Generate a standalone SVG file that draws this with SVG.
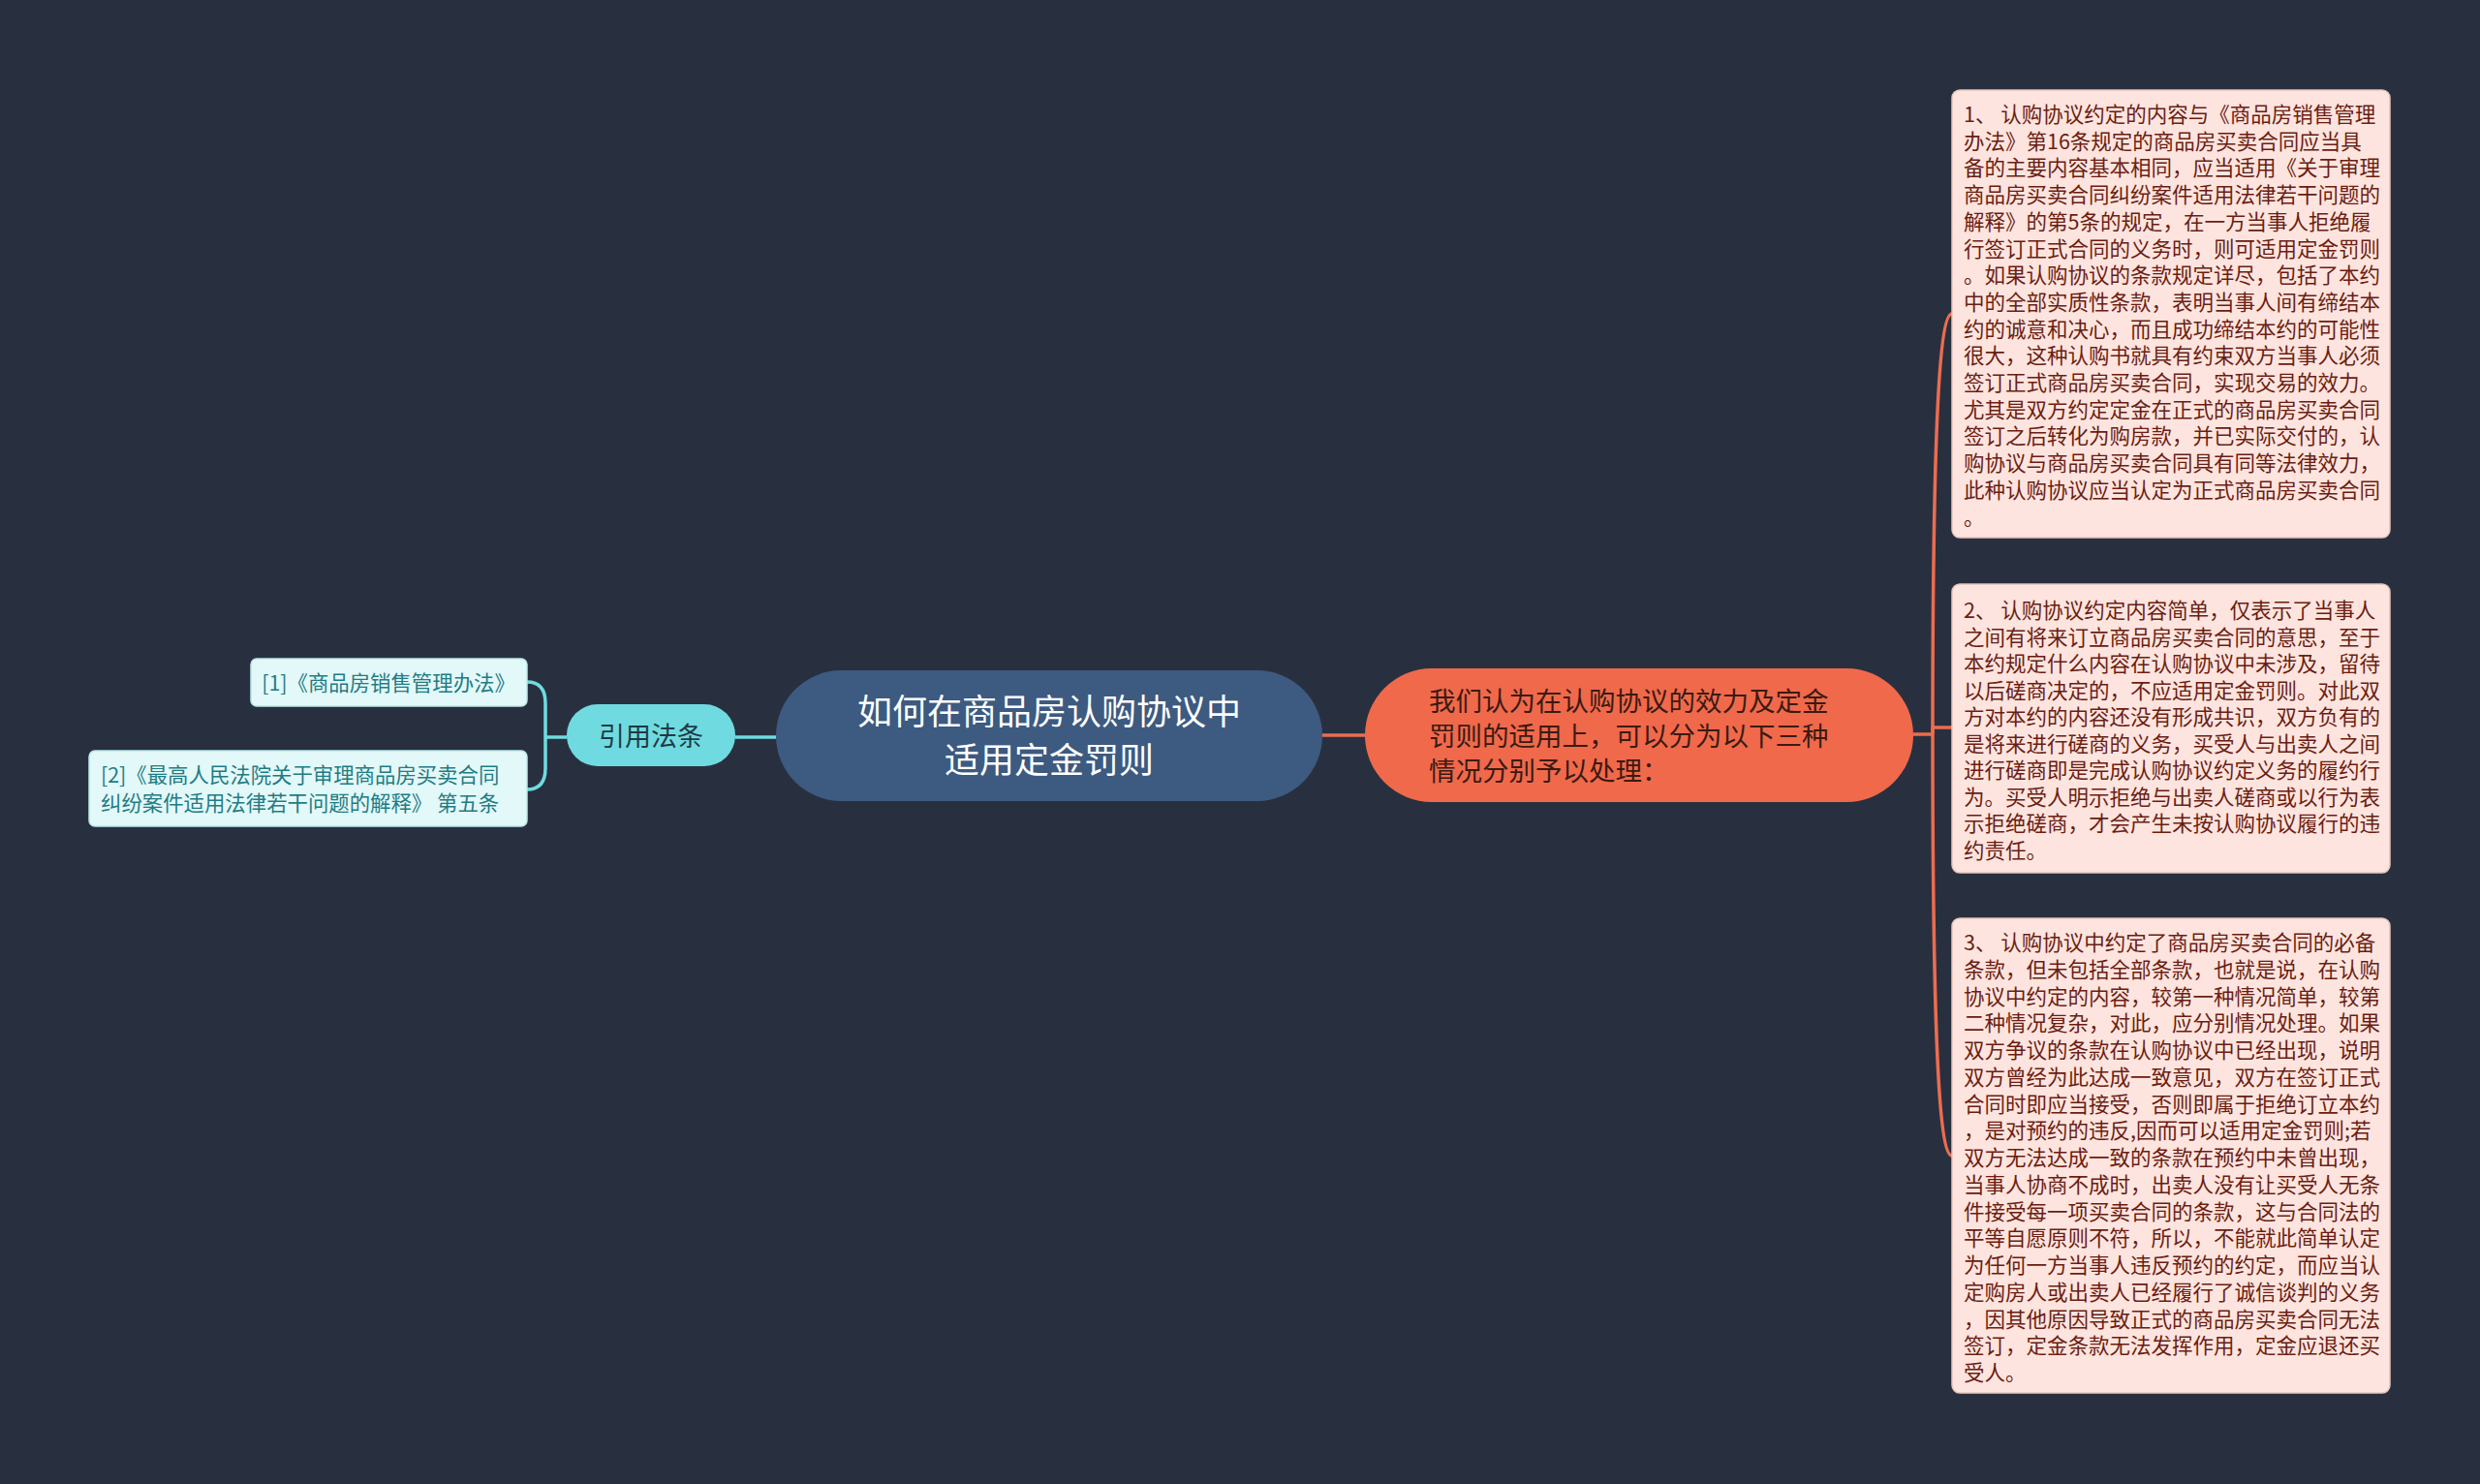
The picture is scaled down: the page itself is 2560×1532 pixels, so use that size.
<svg xmlns="http://www.w3.org/2000/svg" width="2560" height="1532" viewBox="0 0 2560 1532">
<style>
text{font-family:"Noto Sans CJK SC","Noto Sans",sans-serif}
.bx{fill:#fde4de;stroke:#e9c4bb;stroke-width:1.5}
.bt{font-size:21.5px;fill:#6b1d12}
.lf{fill:#e3f8f8;stroke:#b9e6e8;stroke-width:1.5}
.lt{font-size:21.4px;fill:#1f7c84}
.oc{fill:none;stroke:#ec6c50;stroke-width:3.5}
.cc{fill:none;stroke:#6fdbe0;stroke-width:3.5}
</style>
<rect x="0" y="0" width="2560" height="1532" fill="#28303f"/>
<g id="connectors">
<path class="cc" d="M759 761 L801 761"/>
<path class="cc" d="M585 761 L563 761"/>
<path class="cc" d="M563 761 L563 726 Q563 704 544 704"/>
<path class="cc" d="M563 761 L563 793 Q563 815 544 815"/>
<path class="oc" d="M1365 759 L1409 759"/>
<path class="oc" d="M1975 758 L1995 758"/>
<path class="oc" d="M1995 758 C1995 420 2003 324 2015 324"/>
<path class="oc" d="M1995 758 L1995 751 L2015 751"/>
<path class="oc" d="M1995 758 C1995 1100 2003 1193 2015 1193"/>
</g>
<g id="center">
<rect x="801" y="692" width="564" height="135" rx="67.5" fill="#3d5a80"/>
<text x="1083" y="748" font-size="36" fill="#ffffff" text-anchor="middle">如何在商品房认购协议中</text>
<text x="1083" y="798" font-size="36" fill="#ffffff" text-anchor="middle">适用定金罚则</text>
</g>
<g id="main-right">
<rect x="1409" y="690" width="566" height="138" rx="69" fill="#f0694b"/>
<text font-size="27.5" fill="#3b1a12"><tspan x="1475" y="734">我们认为在认购协议的效力及定金</tspan><tspan x="1475" y="770">罚则的适用上，可以分为以下三种</tspan><tspan x="1475" y="806">情况分别予以处理：</tspan></text>
</g>
<g id="main-left">
<rect x="585" y="727" width="174" height="64" rx="32" fill="#6fdbe0"/>
<text x="672" y="770" font-size="27" fill="#1f3a44" text-anchor="middle">引用法条</text>
</g>
<g id="leaf1">
<rect class="lf" x="259" y="680" width="285" height="49" rx="6"/>
<text class="lt" x="401" y="713" text-anchor="middle">[1]《商品房销售管理办法》</text>
</g>
<g id="leaf2">
<rect class="lf" x="92" y="775" width="452" height="78" rx="6"/>
<text class="lt"><tspan x="104" y="808">[2]《最高人民法院关于审理商品房买卖合同</tspan><tspan x="104" y="837">纠纷案件适用法律若干问题的解释》 第五条</tspan></text>
</g>
<g id="box1">
<rect class="bx" x="2015" y="93" width="452" height="462" rx="8"/>
<text class="bt">
<tspan x="2027" y="126">1、 认购协议约定的内容与《商品房销售管理</tspan>
<tspan x="2027" dy="27.7">办法》第16条规定的商品房买卖合同应当具</tspan>
<tspan x="2027" dy="27.7">备的主要内容基本相同，应当适用《关于审理</tspan>
<tspan x="2027" dy="27.7">商品房买卖合同纠纷案件适用法律若干问题的</tspan>
<tspan x="2027" dy="27.7">解释》的第5条的规定，在一方当事人拒绝履</tspan>
<tspan x="2027" dy="27.7">行签订正式合同的义务时，则可适用定金罚则</tspan>
<tspan x="2027" dy="27.7">。如果认购协议的条款规定详尽，包括了本约</tspan>
<tspan x="2027" dy="27.7">中的全部实质性条款，表明当事人间有缔结本</tspan>
<tspan x="2027" dy="27.7">约的诚意和决心，而且成功缔结本约的可能性</tspan>
<tspan x="2027" dy="27.7">很大，这种认购书就具有约束双方当事人必须</tspan>
<tspan x="2027" dy="27.7">签订正式商品房买卖合同，实现交易的效力。</tspan>
<tspan x="2027" dy="27.7">尤其是双方约定定金在正式的商品房买卖合同</tspan>
<tspan x="2027" dy="27.7">签订之后转化为购房款，并已实际交付的，认</tspan>
<tspan x="2027" dy="27.7">购协议与商品房买卖合同具有同等法律效力，</tspan>
<tspan x="2027" dy="27.7">此种认购协议应当认定为正式商品房买卖合同</tspan>
<tspan x="2027" dy="27.7">。</tspan>
</text>
</g>
<g id="box2">
<rect class="bx" x="2015" y="603" width="452" height="298" rx="8"/>
<text class="bt">
<tspan x="2027" y="638">2、 认购协议约定内容简单，仅表示了当事人</tspan>
<tspan x="2027" dy="27.5">之间有将来订立商品房买卖合同的意思，至于</tspan>
<tspan x="2027" dy="27.5">本约规定什么内容在认购协议中未涉及，留待</tspan>
<tspan x="2027" dy="27.5">以后磋商决定的，不应适用定金罚则。对此双</tspan>
<tspan x="2027" dy="27.5">方对本约的内容还没有形成共识，双方负有的</tspan>
<tspan x="2027" dy="27.5">是将来进行磋商的义务，买受人与出卖人之间</tspan>
<tspan x="2027" dy="27.5">进行磋商即是完成认购协议约定义务的履约行</tspan>
<tspan x="2027" dy="27.5">为。买受人明示拒绝与出卖人磋商或以行为表</tspan>
<tspan x="2027" dy="27.5">示拒绝磋商，才会产生未按认购协议履行的违</tspan>
<tspan x="2027" dy="27.5">约责任。</tspan>
</text>
</g>
<g id="box3">
<rect class="bx" x="2015" y="948" width="452" height="490" rx="8"/>
<text class="bt">
<tspan x="2027" y="981">3、 认购协议中约定了商品房买卖合同的必备</tspan>
<tspan x="2027" dy="27.75">条款，但未包括全部条款，也就是说，在认购</tspan>
<tspan x="2027" dy="27.75">协议中约定的内容，较第一种情况简单，较第</tspan>
<tspan x="2027" dy="27.75">二种情况复杂，对此，应分别情况处理。如果</tspan>
<tspan x="2027" dy="27.75">双方争议的条款在认购协议中已经出现，说明</tspan>
<tspan x="2027" dy="27.75">双方曾经为此达成一致意见，双方在签订正式</tspan>
<tspan x="2027" dy="27.75">合同时即应当接受，否则即属于拒绝订立本约</tspan>
<tspan x="2027" dy="27.75">，是对预约的违反,因而可以适用定金罚则;若</tspan>
<tspan x="2027" dy="27.75">双方无法达成一致的条款在预约中未曾出现，</tspan>
<tspan x="2027" dy="27.75">当事人协商不成时，出卖人没有让买受人无条</tspan>
<tspan x="2027" dy="27.75">件接受每一项买卖合同的条款，这与合同法的</tspan>
<tspan x="2027" dy="27.75">平等自愿原则不符，所以，不能就此简单认定</tspan>
<tspan x="2027" dy="27.75">为任何一方当事人违反预约的约定，而应当认</tspan>
<tspan x="2027" dy="27.75">定购房人或出卖人已经履行了诚信谈判的义务</tspan>
<tspan x="2027" dy="27.75">，因其他原因导致正式的商品房买卖合同无法</tspan>
<tspan x="2027" dy="27.75">签订，定金条款无法发挥作用，定金应退还买</tspan>
<tspan x="2027" dy="27.75">受人。</tspan>
</text>
</g>
</svg>
